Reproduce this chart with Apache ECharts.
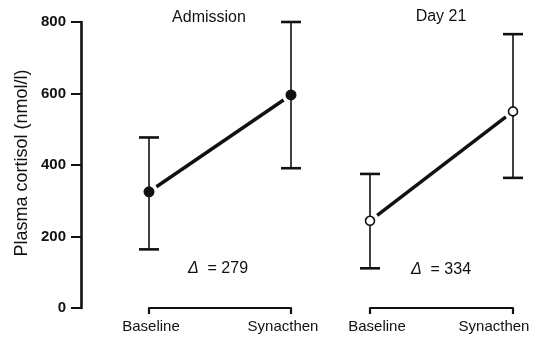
<!DOCTYPE html>
<html>
<head>
<meta charset="utf-8">
<script src="https://cdn.jsdelivr.net/npm/echarts@6/dist/echarts.min.js"></script>
<style>
  html, body { margin: 0; padding: 0; background: #fff; overflow: hidden; }
  #chart { width: 537px; height: 337px; }
</style>
</head>
<body>
<div id="chart"></div>
<script>
// Plasma cortisol before and after Synacthen, at admission and on day 21
const categories = ['Baseline', 'Synacthen'];

const admissionMean = [325, 596];
const admissionLow  = [164, 391];
const admissionHigh = [477, 800];

const day21Mean = [244, 550];
const day21Low  = [111, 364];
const day21High = [375, 766];

const yMin = 0, yMax = 800, yStep = 200;
const panelTitles = ['Admission', 'Day 21'];
const deltas = [279, 334];
const yAxisTitle = 'Plasma cortisol (nmol/l)';

const FONT = '"Liberation Sans", Arial, Helvetica, sans-serif';
const INK = '#111';

const chart = echarts.init(document.getElementById('chart'), null, { renderer: 'canvas', width: 537, height: 337 });

// error bars: vertical whisker with a horizontal cap at each end
function errorBarItem(params, api) {
  const x = api.value(0);
  const top = api.coord([x, api.value(2)]);
  const bot = api.coord([x, api.value(1)]);
  const half = 10;
  return {
    type: 'group',
    children: [
      { type: 'line', shape: { x1: top[0], y1: top[1], x2: bot[0], y2: bot[1] },
        style: { stroke: INK, lineWidth: 1.6 } },
      { type: 'line', shape: { x1: top[0] - half, y1: top[1], x2: top[0] + half, y2: top[1] },
        style: { stroke: INK, lineWidth: 2.6 } },
      { type: 'line', shape: { x1: bot[0] - half, y1: bot[1], x2: bot[0] + half, y2: bot[1] },
        style: { stroke: INK, lineWidth: 2.6 } }
    ]
  };
}

// connecting line between the two means, stopping short of the markers
function linkItem(params, api) {
  const a = api.coord([0, api.value(0)]);
  const b = api.coord([1, api.value(1)]);
  const dx = b[0] - a[0], dy = b[1] - a[1];
  const len = Math.sqrt(dx * dx + dy * dy);
  const gap = 9;
  const ux = dx / len, uy = dy / len;
  return {
    type: 'line',
    shape: { x1: a[0] + ux * gap, y1: a[1] + uy * gap, x2: b[0] - ux * gap, y2: b[1] - uy * gap },
    style: { stroke: INK, lineWidth: 3.4 }
  };
}

function barData(low, high) {
  return categories.map((c, i) => [i, low[i], high[i]]);
}

// category labels sit slightly off their ticks; padding nudges each one sideways
function labelStyle(padLeft, padRight) {
  return { fontFamily: FONT, fontSize: 15, color: INK, padding: [0, padRight, 0, padLeft] };
}

function xAxisFor(gridIndex, pads) {
  const rich = {};
  pads.forEach((p, i) => { rich['c' + i] = labelStyle(p[0], p[1]); });
  return {
    type: 'category', gridIndex, data: categories, boundaryGap: false,
    axisLine: { show: true, lineStyle: { color: INK, width: 2.2 } },
    axisTick: { show: true, inside: false, length: 6, lineStyle: { color: INK, width: 2.2 } },
    axisLabel: {
      color: INK, fontFamily: FONT, fontSize: 15, margin: 11,
      formatter: (value, index) => '{c' + index + '|' + value + '}',
      rich
    },
    splitLine: { show: false }
  };
}

function yAxisFor(gridIndex, visible) {
  return {
    type: 'value', gridIndex, min: yMin, max: yMax, interval: yStep,
    show: visible, offset: visible ? 68 : 0,
    axisLine: { show: true, lineStyle: { color: INK, width: 2.6 } },
    axisTick: { show: true, inside: false, length: 10, lineStyle: { color: INK, width: 2 } },
    axisLabel: { color: INK, fontFamily: FONT, fontSize: 15, fontWeight: 'bold', margin: 15 },
    splitLine: { show: false }
  };
}

function deltaText(x, y, value) {
  return {
    type: 'text', x, y,
    style: {
      text: '{d|Δ}  = ' + value, font: '16px ' + FONT, fill: INK,
      textAlign: 'center', textVerticalAlign: 'middle',
      rich: { d: { fontStyle: 'italic', fontFamily: FONT, fontSize: 16, fill: INK } }
    }
  };
}

const option = {
  backgroundColor: '#fff',
  animation: false,
  grid: [
    { left: 149, right: 246, top: 22, bottom: 29, containLabel: false, outerBoundsMode: 'none' },
    { left: 370, right: 24, top: 22, bottom: 29, containLabel: false, outerBoundsMode: 'none' }
  ],
  xAxis: [
    xAxisFor(0, [[4, 0], [0, 16]]),
    xAxisFor(1, [[14, 0], [0, 38]])
  ],
  yAxis: [yAxisFor(0, true), yAxisFor(1, false)],
  graphic: [
    { type: 'text', x: 209, y: 18, style: { text: panelTitles[0], font: '16px ' + FONT, fill: INK, textAlign: 'center', textVerticalAlign: 'middle' } },
    { type: 'text', x: 441, y: 17, style: { text: panelTitles[1], font: '16px ' + FONT, fill: INK, textAlign: 'center', textVerticalAlign: 'middle' } },
    deltaText(218, 269, deltas[0]),
    deltaText(441, 270, deltas[1]),
    { type: 'text', x: 22, y: 163, rotation: Math.PI / 2, style: { text: yAxisTitle, font: '18px ' + FONT, fill: INK, textAlign: 'center', textVerticalAlign: 'middle' } }
  ],
  series: [
    { type: 'custom', xAxisIndex: 0, yAxisIndex: 0, renderItem: errorBarItem, data: barData(admissionLow, admissionHigh), z: 2 },
    { type: 'custom', xAxisIndex: 1, yAxisIndex: 1, renderItem: errorBarItem, data: barData(day21Low, day21High), z: 2 },
    { type: 'custom', xAxisIndex: 0, yAxisIndex: 0, renderItem: linkItem, data: [admissionMean], z: 2 },
    { type: 'custom', xAxisIndex: 1, yAxisIndex: 1, renderItem: linkItem, data: [day21Mean], z: 2 },
    { type: 'scatter', xAxisIndex: 0, yAxisIndex: 0, data: admissionMean, symbol: 'circle', symbolSize: 11,
      itemStyle: { color: INK, opacity: 1 }, z: 3 },
    { type: 'scatter', xAxisIndex: 1, yAxisIndex: 1, data: day21Mean, symbol: 'circle', symbolSize: 9,
      itemStyle: { color: '#fff', borderColor: INK, borderWidth: 1.6, opacity: 1 }, z: 3 }
  ]
};

chart.setOption(option);
</script>
</body>
</html>
